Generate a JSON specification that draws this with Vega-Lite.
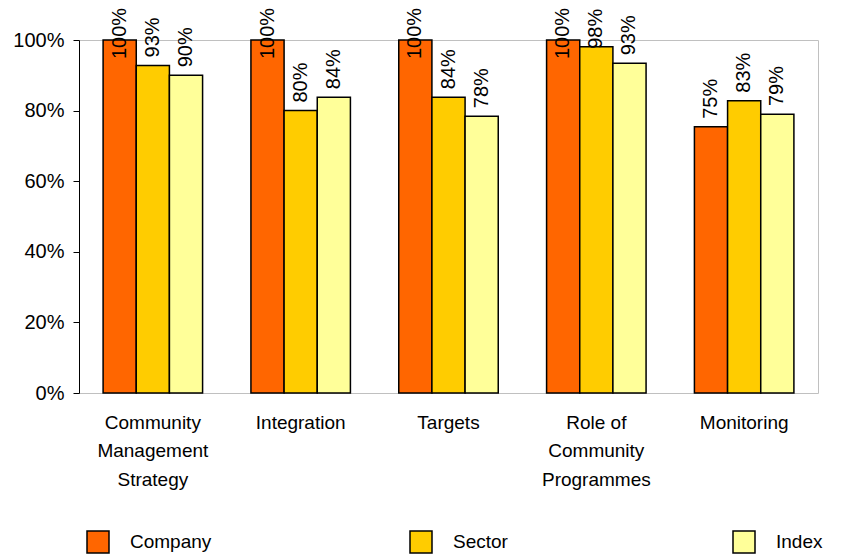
{
  "$schema": "https://vega.github.io/schema/vega-lite/v6.json",
  "autosize": {"type": "none"},
  "width": 739,
  "height": 353,
  "padding": {"left": 79, "top": 40, "right": 47, "bottom": 161},
  "background": "white",
  "config": {
    "font": "Liberation Sans",
    "view": {"stroke": "#C0C0C0", "strokeWidth": 1}
  },
  "data": {
    "values": [
      {"cat": "Community Management Strategy", "series": "Company", "value": 1.0},
      {"cat": "Community Management Strategy", "series": "Sector", "value": 0.928},
      {"cat": "Community Management Strategy", "series": "Index", "value": 0.90},
      {"cat": "Integration", "series": "Company", "value": 1.0},
      {"cat": "Integration", "series": "Sector", "value": 0.80},
      {"cat": "Integration", "series": "Index", "value": 0.838},
      {"cat": "Targets", "series": "Company", "value": 1.0},
      {"cat": "Targets", "series": "Sector", "value": 0.838},
      {"cat": "Targets", "series": "Index", "value": 0.784},
      {"cat": "Role of Community Programmes", "series": "Company", "value": 1.0},
      {"cat": "Role of Community Programmes", "series": "Sector", "value": 0.981},
      {"cat": "Role of Community Programmes", "series": "Index", "value": 0.934},
      {"cat": "Monitoring", "series": "Company", "value": 0.754},
      {"cat": "Monitoring", "series": "Sector", "value": 0.828},
      {"cat": "Monitoring", "series": "Index", "value": 0.79}
    ]
  },
  "encoding": {
    "x": {
      "field": "cat",
      "type": "nominal",
      "sort": null,
      "scale": {"paddingInner": 0.327, "paddingOuter": 0.163},
      "axis": {
        "title": null,
        "labelAngle": 0,
        "domain": false,
        "ticks": false,
        "labelFontSize": 19,
        "labelColor": "black",
        "labelPadding": 20,
        "labelLineHeight": 28.5,
        "labelLimit": 0,
        "labelExpr": "datum.value == 'Community Management Strategy' ? ['Community','Management','Strategy'] : datum.value == 'Role of Community Programmes' ? ['Role of','Community','Programmes'] : datum.value"
      }
    },
    "xOffset": {
      "field": "series",
      "type": "nominal",
      "sort": ["Company", "Sector", "Index"],
      "scale": {"paddingInner": 0, "paddingOuter": 0}
    }
  },
  "layer": [
    {
      "mark": {"type": "bar", "stroke": "black", "strokeWidth": 1.5},
      "encoding": {
        "y": {
          "field": "value",
          "type": "quantitative",
          "title": null,
          "scale": {"domain": [0, 1], "nice": false},
          "axis": {
            "title": null,
            "format": ".0%",
            "values": [0, 0.2, 0.4, 0.6, 0.8, 1.0],
            "grid": false,
            "domainColor": "black",
            "domainWidth": 1,
            "tickColor": "black",
            "tickSize": 6,
            "labelFontSize": 20,
            "labelColor": "black",
            "labelPadding": 9
          }
        },
        "color": {
          "field": "series",
          "type": "nominal",
          "sort": ["Company", "Sector", "Index"],
          "scale": {"domain": ["Company", "Sector", "Index"], "range": ["#FF6600", "#FFCC00", "#FFFF99"]},
          "legend": {
            "title": null,
            "orient": "none",
            "legendX": 7,
            "legendY": 490,
            "direction": "horizontal",
            "columns": 3,
            "gridAlign": "all",
            "symbolType": "square",
            "symbolSize": 484,
            "symbolStrokeColor": "black",
            "symbolStrokeWidth": 1.5,
            "symbolOpacity": 1,
            "labelFontSize": 19,
            "labelColor": "black",
            "labelOffset": 20,
            "columnPadding": 195
          }
        }
      }
    },
    {
      "transform": [
        {"calculate": "min(datum.value + 0.0227, datum.value >= 0.995 ? 0.946 : 0.975)", "as": "ly"}
      ],
      "mark": {"type": "text", "angle": 270, "align": "left", "baseline": "middle", "fontSize": 20, "color": "black"},
      "encoding": {
        "y": {"field": "ly", "type": "quantitative", "title": null},
        "text": {"field": "value", "type": "quantitative", "format": ".0%"}
      }
    }
  ]
}
